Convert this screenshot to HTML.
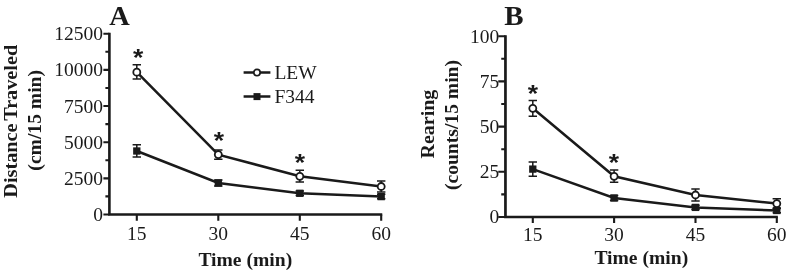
<!DOCTYPE html>
<html><head><meta charset="utf-8"><title>Figure</title>
<style>
html,body{margin:0;padding:0;background:#fff;}
svg{display:block}
.t{font-family:"Liberation Serif",serif;font-size:19.5px;fill:#1a1a1a}
.b{font-family:"Liberation Serif",serif;font-size:19.6px;font-weight:bold;fill:#1a1a1a}
.L{font-family:"Liberation Serif",serif;font-size:27.6px;font-weight:bold;fill:#1a1a1a}
.st{font-family:"Liberation Sans",sans-serif;font-size:25px;font-weight:bold;fill:#1a1a1a}
</style></head><body>
<svg width="790" height="275" viewBox="0 0 790 275">
<rect width="790" height="275" fill="#fff"/>
<path d="M109.4 32.65 V214.5 H382.25" fill="none" stroke="#1a1a1a" stroke-width="2.6" stroke-linejoin="miter"/>
<path d="M109.4 33.70 h-6.0 M109.4 51.78 h-4.0 M109.4 69.86 h-6.0 M109.4 87.94 h-4.0 M109.4 106.02 h-6.0 M109.4 124.10 h-4.0 M109.4 142.18 h-6.0 M109.4 160.26 h-4.0 M109.4 178.34 h-6.0 M109.4 196.42 h-4.0 M109.4 214.50 h-6.0 M136.8 214.5 v6.2 M218.3 214.5 v6.2 M299.8 214.5 v6.2 M381.2 214.5 v6.2 " fill="none" stroke="#1a1a1a" stroke-width="2.1"/>
<text x="103.10" y="40.25" text-anchor="end" class="t">12500</text>
<text x="103.10" y="76.41" text-anchor="end" class="t">10000</text>
<text x="103.10" y="112.57" text-anchor="end" class="t">7500</text>
<text x="103.10" y="148.73" text-anchor="end" class="t">5000</text>
<text x="103.10" y="184.89" text-anchor="end" class="t">2500</text>
<text x="103.10" y="221.05" text-anchor="end" class="t">0</text>
<text x="136.8" y="239.7" text-anchor="middle" class="t">15</text>
<text x="218.3" y="239.7" text-anchor="middle" class="t">30</text>
<text x="299.8" y="239.7" text-anchor="middle" class="t">45</text>
<text x="381.2" y="239.7" text-anchor="middle" class="t">60</text>
<polyline points="136.8,151 218.3,183 299.8,193.3 381.2,196.6" fill="none" stroke="#1a1a1a" stroke-width="2.5"/>
<path d="M136.8 144.8 V157 M132.60 144.8 h8.4 M132.60 157 h8.4 M218.3 180 V186 M214.10 180 h8.4 M214.10 186 h8.4 M299.8 191 V195.5 M295.60 191 h8.4 M295.60 195.5 h8.4 M381.2 194.3 V198.8 M377.00 194.3 h8.4 M377.00 198.8 h8.4 " fill="none" stroke="#1a1a1a" stroke-width="1.5"/>
<rect x="133.15" y="147.35" width="7.3" height="7.3" fill="#1a1a1a"/>
<rect x="214.65" y="179.35" width="7.3" height="7.3" fill="#1a1a1a"/>
<rect x="296.15" y="189.65" width="7.3" height="7.3" fill="#1a1a1a"/>
<rect x="377.55" y="192.95" width="7.3" height="7.3" fill="#1a1a1a"/>
<polyline points="136.8,72.2 218.3,154.6 299.8,176.3 381.2,186.5" fill="none" stroke="#1a1a1a" stroke-width="2.5"/>
<path d="M136.8 64.8 V79.1 M132.60 64.8 h8.4 M132.60 79.1 h8.4 M218.3 149.9 V159.3 M214.10 149.9 h8.4 M214.10 159.3 h8.4 M299.8 170.2 V182 M295.60 170.2 h8.4 M295.60 182 h8.4 M381.2 181 V192 M377.00 181 h8.4 M377.00 192 h8.4 " fill="none" stroke="#1a1a1a" stroke-width="1.5"/>
<circle cx="136.8" cy="72.2" r="3.5" fill="#fff" stroke="#1a1a1a" stroke-width="1.8"/>
<circle cx="218.3" cy="154.6" r="3.5" fill="#fff" stroke="#1a1a1a" stroke-width="1.8"/>
<circle cx="299.8" cy="176.3" r="3.5" fill="#fff" stroke="#1a1a1a" stroke-width="1.8"/>
<circle cx="381.2" cy="186.5" r="3.5" fill="#fff" stroke="#1a1a1a" stroke-width="1.8"/>
<text transform="translate(138.2 66.0) scale(1.06 0.95)" text-anchor="middle" class="st">*</text>
<text transform="translate(219 149.4) scale(1.06 0.95)" text-anchor="middle" class="st">*</text>
<text transform="translate(300 170.8) scale(1.06 0.95)" text-anchor="middle" class="st">*</text>
<text x="245.3" y="265.5" text-anchor="middle" class="b">Time (min)</text>
<text transform="translate(109.2 24.6) scale(1.03 1)" class="L">A</text>
<text transform="translate(17.4 121.25) rotate(-90) scale(1.034 1)" text-anchor="middle" class="b" style="word-spacing:-2px">Distance Traveled</text>
<text transform="translate(41.3 120.3) rotate(-90) scale(1.0 1)" text-anchor="middle" class="b" style="word-spacing:0px">(cm/15 min)</text>
<path d="M243.6 72.6 H270.4 M243.6 96.6 H270.4" stroke="#1a1a1a" stroke-width="2.5"/>
<circle cx="257.0" cy="72.6" r="3.15" fill="#fff" stroke="#1a1a1a" stroke-width="1.7"/>
<rect x="253.5" y="93.1" width="7" height="7" fill="#1a1a1a"/>
<text x="274.4" y="79" class="t">LEW</text>
<text x="274.4" y="103" class="t">F344</text>
<path d="M505.45 35.15 V217.0 H777.85" fill="none" stroke="#1a1a1a" stroke-width="2.7" stroke-linejoin="miter"/>
<path d="M505.45 36.20 h-7.2 M505.45 58.80 h-4.2 M505.45 81.40 h-7.2 M505.45 104.00 h-4.2 M505.45 126.60 h-7.2 M505.45 149.20 h-4.2 M505.45 171.80 h-7.2 M505.45 194.40 h-4.2 M505.45 217.00 h-7.2 M532.8 217.0 v6.1 M614.1 217.0 v6.1 M695.5 217.0 v6.1 M776.8 217.0 v6.1 " fill="none" stroke="#1a1a1a" stroke-width="2.1"/>
<text x="499.20" y="42.50" text-anchor="end" class="t">100</text>
<text x="499.20" y="87.70" text-anchor="end" class="t">75</text>
<text x="499.20" y="132.90" text-anchor="end" class="t">50</text>
<text x="499.20" y="178.10" text-anchor="end" class="t">25</text>
<text x="499.20" y="223.30" text-anchor="end" class="t">0</text>
<text x="532.8" y="241.4" text-anchor="middle" class="t">15</text>
<text x="614.1" y="241.4" text-anchor="middle" class="t">30</text>
<text x="695.5" y="241.4" text-anchor="middle" class="t">45</text>
<text x="776.8" y="241.4" text-anchor="middle" class="t">60</text>
<polyline points="532.8,169.1 614.1,198 695.5,207.4 776.8,210.5" fill="none" stroke="#1a1a1a" stroke-width="2.5"/>
<path d="M532.8 162 V176.2 M528.60 162 h8.4 M528.60 176.2 h8.4 M614.1 195.5 V200.5 M609.90 195.5 h8.4 M609.90 200.5 h8.4 M695.5 205.2 V209.6 M691.30 205.2 h8.4 M691.30 209.6 h8.4 M776.8 208.3 V212.7 M772.60 208.3 h8.4 M772.60 212.7 h8.4 " fill="none" stroke="#1a1a1a" stroke-width="1.5"/>
<rect x="529.15" y="165.45" width="7.3" height="7.3" fill="#1a1a1a"/>
<rect x="610.45" y="194.35" width="7.3" height="7.3" fill="#1a1a1a"/>
<rect x="691.85" y="203.75" width="7.3" height="7.3" fill="#1a1a1a"/>
<rect x="773.15" y="206.85" width="7.3" height="7.3" fill="#1a1a1a"/>
<polyline points="532.8,108.3 614.1,176.3 695.5,195 776.8,203.6" fill="none" stroke="#1a1a1a" stroke-width="2.5"/>
<path d="M532.8 100.4 V116.2 M528.60 100.4 h8.4 M528.60 116.2 h8.4 M614.1 170 V182.3 M609.90 170 h8.4 M609.90 182.3 h8.4 M695.5 189 V201 M691.30 189 h8.4 M691.30 201 h8.4 M776.8 198.8 V208.5 M772.60 198.8 h8.4 M772.60 208.5 h8.4 " fill="none" stroke="#1a1a1a" stroke-width="1.5"/>
<circle cx="532.8" cy="108.3" r="3.5" fill="#fff" stroke="#1a1a1a" stroke-width="1.8"/>
<circle cx="614.1" cy="176.3" r="3.5" fill="#fff" stroke="#1a1a1a" stroke-width="1.8"/>
<circle cx="695.5" cy="195" r="3.5" fill="#fff" stroke="#1a1a1a" stroke-width="1.8"/>
<circle cx="776.8" cy="203.6" r="3.5" fill="#fff" stroke="#1a1a1a" stroke-width="1.8"/>
<text transform="translate(533 102.4) scale(1.06 0.95)" text-anchor="middle" class="st">*</text>
<text transform="translate(614 171.4) scale(1.06 0.95)" text-anchor="middle" class="st">*</text>
<text x="641.3" y="264.2" text-anchor="middle" class="b">Time (min)</text>
<text transform="translate(504.2 24.6) scale(1.05 1)" class="L">B</text>
<text transform="translate(433.7 124.1) rotate(-90) scale(1.02 1)" text-anchor="middle" class="b" style="word-spacing:0px">Rearing</text>
<text transform="translate(458 125) rotate(-90) scale(1.0 1)" text-anchor="middle" class="b" style="word-spacing:0px">(counts/15 min)</text>
</svg>
</body></html>
